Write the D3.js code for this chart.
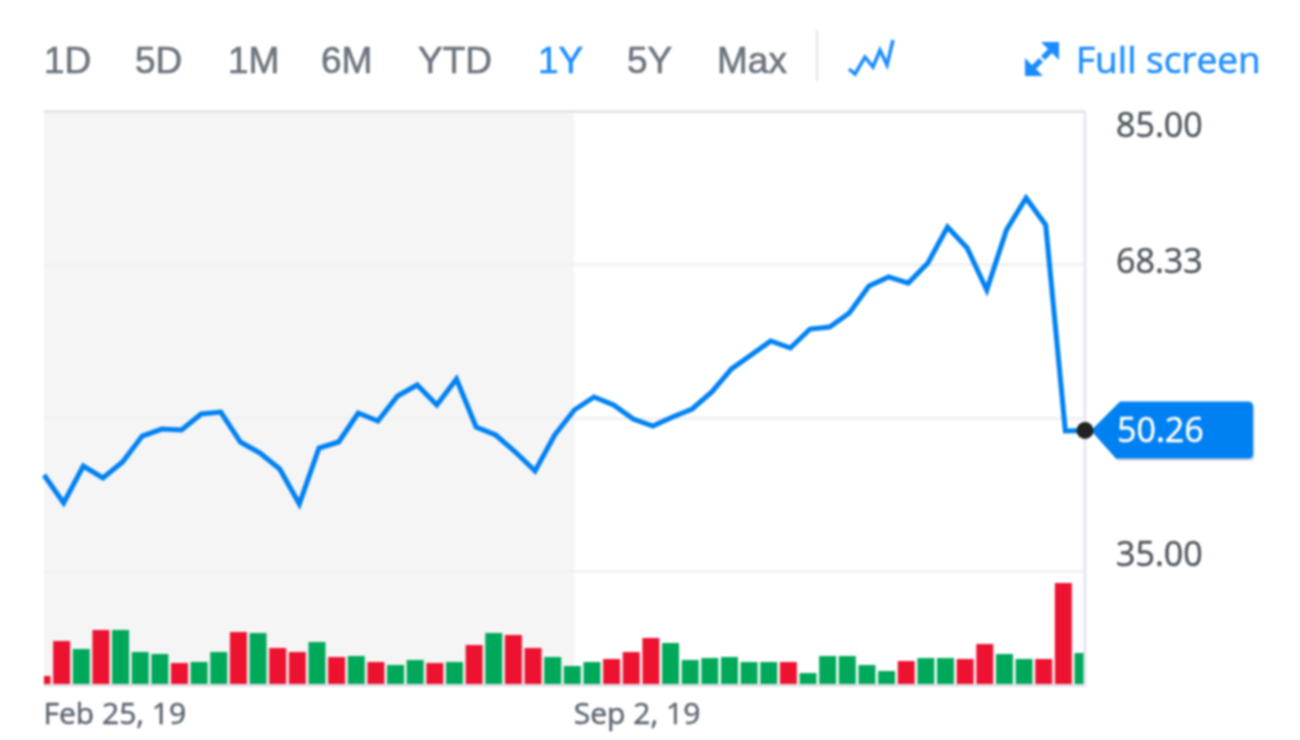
<!DOCTYPE html>
<html>
<head>
<meta charset="utf-8">
<title>1Y chart</title>
<script src="https://cdn.jsdelivr.net/npm/d3@7"></script>
<style>
html, body { margin: 0; padding: 0; background: #fff; overflow: hidden; }
#canvas { display: block; filter: blur(0.8px); }
</style>
</head>
<body>
<svg id="canvas"></svg>
<script>
let ranges = ["1D","5D","1M","6M","YTD","1Y","5Y","Max"];
let activeRange = "1Y";
let fullScreenLabel = "Full screen";

let yTicks = [85, 68.33, 51.67, 35];
let yLabels = ["85.00", "68.33", "", "35.00"];
let lastPrice = 50.26;

let xTicks = [0, 27];
let xLabels = ["Feb 25, 19", "Sep 2, 19"];

// weekly close, one per week from Feb 25, 19
let prices = [
    45.43,42.39,46.41,45.11,46.85,49.67,50.43,50.33,52.07,52.28,
    49.02,47.83,46.09,42.28,48.37,49.02,52.17,51.30,54.02,55.22,
    53.04,55.87,50.65,49.78,47.93,45.87,49.78,52.50,53.91,53.04,
    51.52,50.76,51.74,52.61,54.46,56.96,58.48,60.00,59.24,61.30,
    61.52,63.04,65.98,66.96,66.30,68.48,72.39,70.11,65.54,72.07,
    75.54,72.61,50.22,50.26
];

// volume, relative units
let volumes = [
    9,44,36,55,55,33,31,22,23,33,
    53,52,37,33,43,28,29,23,20,25,
    22,23,40,52,50,37,28,19,23,26,
    33,47,42,25,27,28,23,23,23,12,
    29,29,20,14,24,27,27,26,41,31,
    26,26,102,32
];
// 1 = up week (green), 0 = down week (red)
let upWeeks = [
    0,0,1,0,1,1,1,0,1,1,
    0,1,0,0,1,0,1,0,1,1,
    0,1,0,1,0,0,1,1,1,0,
    0,0,1,1,1,1,1,1,0,1,
    1,1,1,1,0,1,1,0,0,1,
    1,0,0,1
];

let width = 1300;
let height = 740;

let plotLeft = 44;
let plotRight = 1085;
let plotTop = 111;
let plotBottom = 685;
let gridBottom = 571;

let blue = "#0081f2";
let green = "#00a95a";
let red = "#ec1230";
let textGrey = "#5d6670";

let canvas = d3.select("#canvas");
canvas.attr("width",width);
canvas.attr("height",height);

let xScale;
let yScale;
let volScale;

let generateScales = () =>{
    xScale = d3.scaleLinear()
                .domain([0,prices.length-1])
                .range([plotLeft,plotRight])

    yScale = d3.scaleLinear()
                .domain([35,85])
                .range([gridBottom,plotTop])

    volScale = d3.scaleLinear()
                .domain([0,d3.max(volumes)])
                .range([plotBottom,plotBottom-102])
}

let drawFrame = () =>{
    // shaded first half of the period
    canvas.append("rect")
          .attr("x",plotLeft)
          .attr("y",plotTop)
          .attr("width",xScale(xTicks[1])-plotLeft)
          .attr("height",plotBottom-plotTop)
          .attr("fill","#f5f5f5")

    canvas.append("defs")
          .append("clipPath")
          .attr("id","plot-clip")
          .append("rect")
          .attr("x",plotLeft)
          .attr("y",plotTop)
          .attr("width",plotRight-plotLeft-1)
          .attr("height",plotBottom-plotTop)
}

let drawAxes = () =>{
    let yAxis = d3.axisRight(yScale)
                  .tickValues(yTicks)
                  .tickSize(plotRight-plotLeft)
                  .tickFormat((d,i)=>yLabels[i]);

    let yGroup = canvas.append("g")
                       .call(yAxis)
                       .attr("id","y-axis")
                       .attr("transform","translate("+plotLeft+",0)")

    yGroup.select(".domain").remove();
    yGroup.selectAll(".tick line")
          .attr("stroke",(d)=> d==85 ? "#e3e4ea" : "#f1f1f1")
          .attr("stroke-width",3)

    // labels sit beside the gridlines, pushed inward at the two ends
    let labelShift = [14,-3,0,-17];
    yGroup.selectAll(".tick text")
          .attr("x",plotRight-plotLeft+31)
          .attr("dy",(d,i)=>(labelShift[i]+11)+"px")
          .attr("fill","#50585f")
          .attr("stroke","#50585f")
          .attr("stroke-width",0.5)
          .style("font-family","'Open Sans'")
          .style("font-size","34px")

    let xAxis = d3.axisBottom(xScale)
                  .tickValues(xTicks)
                  .tickSize(0)
                  .tickFormat((d,i)=>xLabels[i]);

    let xGroup = canvas.append("g")
                       .call(xAxis)
                       .attr("id","x-axis")
                       .attr("transform","translate(0,"+plotBottom+")")

    xGroup.select(".domain")
          .attr("stroke","#e3e4ea")
          .attr("stroke-width",3)
    xGroup.selectAll(".tick text")
          .attr("y",18)
          .attr("dy","0.71em")
          .attr("x",-1)
          .attr("text-anchor","start")
          .attr("fill",textGrey)
          .attr("stroke",textGrey)
          .attr("stroke-width",0.5)
          .style("font-family","'Open Sans'")
          .style("font-size","30px")

    // right edge of the plot
    canvas.append("line")
          .attr("x1",plotRight)
          .attr("x2",plotRight)
          .attr("y1",plotTop)
          .attr("y2",plotBottom)
          .attr("stroke","#e6e7ef")
          .attr("stroke-width",3)
}

let drawBars = () =>{
    let barWidth = 17;
    canvas.append("g")
          .attr("clip-path","url(#plot-clip)")
          .selectAll("rect")
          .data(volumes)
          .enter()
          .append("rect")
          .attr("class","bar")
          .attr("x",(d,i)=>xScale(i)-2-barWidth/2)
          .attr("y",(d)=>volScale(d))
          .attr("width",barWidth)
          .attr("height",(d)=>plotBottom-volScale(d))
          .attr("fill",(d,i)=> upWeeks[i] ? green : red)
}

let drawLine = () =>{
    let line = d3.line()
                 .x((d,i)=>xScale(i))
                 .y((d)=>yScale(d));

    canvas.append("path")
          .datum(prices)
          .attr("d",line)
          .attr("fill","none")
          .attr("stroke",blue)
          .attr("stroke-width",5)
          .attr("stroke-linejoin","miter")
}

let drawPriceTag = () =>{
    let y = yScale(lastPrice);
    let tag = d3.path();
    tag.moveTo(plotRight+6,y);
    tag.lineTo(plotRight+35,y-29);
    tag.lineTo(1248,y-29);
    tag.quadraticCurveTo(1253,y-29,1253,y-24);
    tag.lineTo(1253,y+23);
    tag.quadraticCurveTo(1253,y+28,1248,y+28);
    tag.lineTo(plotRight+31,y+28);
    tag.closePath();

    canvas.append("path")
          .attr("d",tag.toString())
          .attr("fill","#9aa3ad")
          .attr("opacity",0.5)
          .attr("transform","translate(1.5,2)")

    canvas.append("path")
          .attr("d",tag.toString())
          .attr("fill",blue)

    canvas.append("text")
          .attr("x",1117)
          .attr("y",y+11)
          .attr("fill","#fff")
          .attr("stroke","#fff")
          .attr("stroke-width",0.5)
          .style("font-family","'Open Sans'")
          .style("font-size","34px")
          .text(lastPrice.toFixed(2))

    canvas.append("circle")
          .attr("cx",xScale(prices.length-1))
          .attr("cy",y)
          .attr("r",8.5)
          .attr("fill","#222")
}

let drawToolbar = () =>{
    let rangeX = [44,135,228,321,418,538,627,717];

    canvas.append("g")
          .selectAll("text")
          .data(ranges)
          .enter()
          .append("text")
          .attr("x",(d,i)=>rangeX[i])
          .attr("y",73)
          .attr("fill",(d)=> d==activeRange ? "#1a8cff" : "#6b737c")
          .attr("stroke",(d)=> d==activeRange ? "#1a8cff" : "#6b737c")
          .attr("stroke-width",0.6)
          .style("font-family","'Liberation Sans'")
          .style("font-size","37px")
          .text((d)=>d)

    canvas.append("line")
          .attr("x1",817)
          .attr("x2",817)
          .attr("y1",30)
          .attr("y2",81)
          .attr("stroke","#e2e5ea")
          .attr("stroke-width",2)

    // small line-chart icon
    canvas.append("path")
          .attr("d","M849,69 L855,74 L865,57 L873,67 L880,50 L887,65 L893,40")
          .attr("fill","none")
          .attr("stroke","#1a8cff")
          .attr("stroke-width",3.5)

    // expand icon
    let expand = canvas.append("g").attr("fill","#1a8cff");
    expand.append("path").attr("d","M1059,42 L1059,60 L1052,53 L1045,60 L1041,56 L1048,49 L1041,42 Z");
    expand.append("path").attr("d","M1025,76 L1025,58 L1032,65 L1039,58 L1043,62 L1036,69 L1043,76 Z");

    canvas.append("text")
          .attr("x",1076)
          .attr("y",73)
          .attr("fill","#1a8cff")
          .attr("stroke","#1a8cff")
          .attr("stroke-width",0.5)
          .style("font-family","'Open Sans'")
          .style("font-size","37px")
          .text(fullScreenLabel)
}

generateScales();
drawFrame();
drawBars();
drawAxes();
drawLine();
drawPriceTag();
drawToolbar();
</script>
</body>
</html>
